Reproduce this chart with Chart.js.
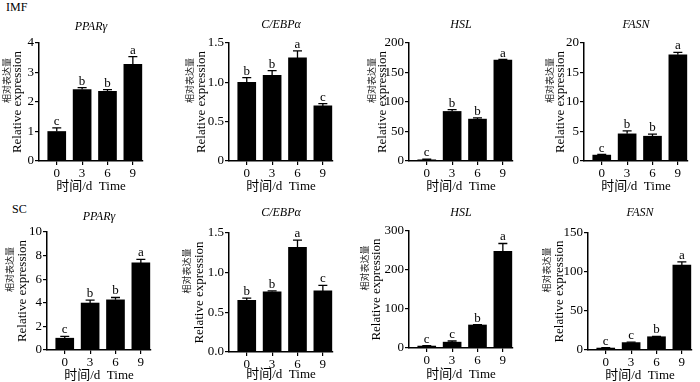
<!DOCTYPE html>
<html><head><meta charset="utf-8">
<script src="https://cdn.jsdelivr.net/npm/chart.js@4.4.0/dist/chart.umd.min.js"></script>
<style>
html,body{margin:0;padding:0;background:#fff;width:700px;height:382px;overflow:hidden;}
#wrap{position:relative;width:700px;height:382px;}
canvas{position:absolute;left:0;top:0;}
.grp{position:absolute;font:12px 'Liberation Serif',serif;color:#000;line-height:14px;}
</style></head><body>
<div id="wrap">
<div class="grp" style="left:6px;top:0px">IMF</div>
<div class="grp" style="left:12px;top:202px">SC</div>
</div>
<script>
// ---- data ----
const days = [0, 3, 6, 9];
const dayLabels = ['0', '3', '6', '9'];
const genes = ['PPARγ', 'C/EBPα', 'HSL', 'FASN'];
const groups = ['IMF', 'SC'];

// IMF
const imfPPARG = [1.0, 2.42, 2.36, 3.28];
const imfPPARGErr = [0.12, 0.07, 0.06, 0.26];
const imfPPARGSig = ['c', 'b', 'b', 'a'];
const imfCEBPA = [1.0, 1.09, 1.31, 0.70];
const imfCEBPAErr = [0.06, 0.06, 0.09, 0.03];
const imfCEBPASig = ['b', 'b', 'a', 'c'];
const imfHSL = [2, 84, 71, 171];
const imfHSLErr = [1, 3, 2, 1];
const imfHSLSig = ['c', 'b', 'b', 'a'];
const imfFASN = [1.0, 4.6, 4.2, 18.0];
const imfFASNErr = [0.1, 0.5, 0.35, 0.4];
const imfFASNSig = ['c', 'b', 'b', 'a'];

// SC
const scPPARG = [1.0, 3.98, 4.25, 7.38];
const scPPARGErr = [0.15, 0.25, 0.2, 0.3];
const scPPARGSig = ['c', 'b', 'b', 'a'];
const scCEBPA = [0.65, 0.76, 1.32, 0.77];
const scCEBPAErr = [0.03, 0.01, 0.09, 0.07];
const scCEBPASig = ['b', 'b', 'a', 'c'];
const scHSL = [5, 15, 59, 248];
const scHSLErr = [1, 3, 1, 20];
const scHSLSig = ['c', 'c', 'b', 'a'];
const scFASN = [2.5, 9.5, 17, 109];
const scFASNErr = [0.5, 0.5, 0.5, 4];
const scFASNSig = ['c', 'c', 'b', 'a'];

// y tick values / labels
const ticksPPARG_IMF = [0, 1, 2, 3, 4];
const labelsPPARG_IMF = ['0', '1', '2', '3', '4'];
const ticksCEBPA_IMF = [0, 0.5, 1.0, 1.5];
const labelsCEBPA_IMF = ['0', '0.5', '1.0', '1.5'];
const ticksHSL_IMF = [0, 50, 100, 150, 200];
const labelsHSL_IMF = ['0', '50', '100', '150', '200'];
const ticksFASN_IMF = [0, 5, 10, 15, 20];
const labelsFASN_IMF = ['0', '5', '10', '15', '20'];
const ticksPPARG_SC = [0, 2, 4, 6, 8, 10];
const labelsPPARG_SC = ['0', '2', '4', '6', '8', '10'];
const ticksCEBPA_SC = [0, 0.5, 1.0, 1.5];
const labelsCEBPA_SC = ['0.0', '0.5', '1.0', '1.5'];
const ticksHSL_SC = [0, 100, 200, 300];
const labelsHSL_SC = ['0', '100', '200', '300'];
const ticksFASN_SC = [0, 50, 100, 150];
const labelsFASN_SC = ['0', '50', '100', '150'];

const yTitleEn = 'Relative expression';
const yTitleCn = '相对表达量';
const xTitle = '时间/d  Time';

// ---- panel layout (pixel geometry, not data) ----
const W = 700, H = 382;
const panels = [
  {gene: 0, v: imfPPARG, e: imfPPARGErr, s: imfPPARGSig, tv: ticksPPARG_IMF, tl: labelsPPARG_IMF, L: 39, R: 143, T: 43, B: 161, ty: 27, ex: 17.5, cx: 7, xty: 187},
  {gene: 1, v: imfCEBPA, e: imfCEBPAErr, s: imfCEBPASig, tv: ticksCEBPA_IMF, tl: labelsCEBPA_IMF, L: 229, R: 333, T: 43, B: 161, ty: 25, ex: 202, cx: 190, xty: 187},
  {gene: 2, v: imfHSL, e: imfHSLErr, s: imfHSLSig, tv: ticksHSL_IMF, tl: labelsHSL_IMF, L: 409, R: 513, T: 43, B: 161, ty: 25, ex: 383, cx: 372, xty: 187},
  {gene: 3, v: imfFASN, e: imfFASNErr, s: imfFASNSig, tv: ticksFASN_IMF, tl: labelsFASN_IMF, L: 584, R: 688, T: 43, B: 161, ty: 25, ex: 561, cx: 550, xty: 187},
  {gene: 0, v: scPPARG, e: scPPARGErr, s: scPPARGSig, tv: ticksPPARG_SC, tl: labelsPPARG_SC, L: 47, R: 151, T: 232, B: 350, ty: 217, ex: 23, cx: 10, xty: 376},
  {gene: 1, v: scCEBPA, e: scCEBPAErr, s: scCEBPASig, tv: ticksCEBPA_SC, tl: labelsCEBPA_SC, L: 229, R: 333, T: 233, B: 352, ty: 213, ex: 200, cx: 187, xty: 375},
  {gene: 2, v: scHSL, e: scHSLErr, s: scHSLSig, tv: ticksHSL_SC, tl: labelsHSL_SC, L: 409, R: 513, T: 231, B: 348, ty: 213, ex: 377, cx: 365, xty: 375},
  {gene: 3, v: scFASN, e: scFASNErr, s: scFASNSig, tv: ticksFASN_SC, tl: labelsFASN_SC, L: 588, R: 692, T: 233, B: 350, ty: 213, ex: 560, cx: 547, xty: 376}
];

const SERIF = "'Liberation Serif', serif";
const SERIF_CJK = "'Liberation Serif', 'Noto Sans CJK SC', serif";
Chart.defaults.font.family = SERIF;
Chart.defaults.color = '#000';

const errPlugin = {
  id: 'errLetters',
  afterDatasetsDraw(chart, args, opts) {
    const ctx = chart.ctx;
    const y = chart.scales.y;
    const meta = chart.getDatasetMeta(0);
    ctx.save();
    ctx.strokeStyle = '#000';
    ctx.lineWidth = 1.3;
    ctx.fillStyle = '#000';
    ctx.font = "13px " + SERIF;
    ctx.textAlign = 'center';
    ctx.textBaseline = 'alphabetic';
    meta.data.forEach((bar, i) => {
      const v = opts.values[i], e = opts.errors[i];
      const yTop = y.getPixelForValue(v);
      const yErr = y.getPixelForValue(v + e);
      ctx.beginPath();
      ctx.moveTo(bar.x, yTop);
      ctx.lineTo(bar.x, yErr);
      ctx.moveTo(bar.x - 4.5, yErr);
      ctx.lineTo(bar.x + 4.5, yErr);
      ctx.stroke();
      ctx.fillText(opts.letters[i], bar.x, yErr - 3);
    });
    // Chinese y-axis title line (starts at the plot's mid-height, runs upward)
    const ca = chart.chartArea;
    ctx.translate(opts.cnX, (ca.top + ca.bottom) / 2 + 1);
    ctx.rotate(-Math.PI / 2);
    ctx.font = "9px 'Noto Sans CJK SC', sans-serif";
    ctx.fillStyle = '#222';
    ctx.textAlign = 'left';
    ctx.textBaseline = 'middle';
    ctx.fillText(yTitleCn, 0, 0);
    ctx.restore();
  }
};

const wrap = document.getElementById('wrap');
panels.forEach((p) => {
  const cv = document.createElement('canvas');
  cv.width = W; cv.height = H;
  cv.style.width = W + 'px'; cv.style.height = H + 'px';
  wrap.appendChild(cv);
  new Chart(cv, {
    type: 'bar',
    data: {
      labels: days,
      datasets: [{
        data: p.v,
        backgroundColor: '#000',
        borderWidth: 0,
        barThickness: 18
      }]
    },
    plugins: [errPlugin],
    options: {
      responsive: false,
      animation: false,
      events: [],
      layout: {padding: {left: 0, top: 0, bottom: 0, right: W - p.R}},
      plugins: {
        legend: {display: false},
        tooltip: {enabled: false},
        title: {
          display: true,
          text: genes[p.gene],
          fullSize: false,
          color: '#000',
          font: {size: 12, style: 'italic', weight: 'normal', family: SERIF, lineHeight: 1.2},
          padding: {top: p.ty - 7.2, bottom: p.T - p.ty - 7.2}
        },
        errLetters: {values: p.v, errors: p.e, letters: p.s, cnX: p.cx}
      },
      scales: {
        x: {
          type: 'linear',
          offset: false,
          min: -2.1,
          max: 10.2,
          afterBuildTicks: (s) => { s.ticks = days.map(d => ({value: d})); },
          afterFit: (s) => { s.height = H - p.B; },
          ticks: {
            autoSkip: false,
            padding: 1,
            font: {size: 13, family: SERIF, weight: 'normal'},
            color: '#000',
            maxRotation: 0,
            callback: (val) => dayLabels[days.indexOf(val)]
          },
          grid: {display: true, offset: false, drawOnChartArea: false, drawTicks: true, tickLength: 4, color: '#000', lineWidth: 1.2},
          border: {display: true, color: '#000', width: 1.5},
          title: {
            display: true,
            text: xTitle,
            color: '#000',
            font: {size: 13, family: SERIF_CJK, weight: 'normal', lineHeight: 1.2},
            padding: {top: 0, bottom: H - p.xty - 7.8}
          }
        },
        y: {
          min: 0,
          max: p.tv[p.tv.length - 1],
          afterBuildTicks: (s) => { s.ticks = p.tv.map(v => ({value: v})); },
          afterFit: (s) => { s.width = p.L; },
          ticks: {
            padding: 1,
            font: {size: 13, family: SERIF, weight: 'normal'},
            color: '#000',
            callback: (val, i) => p.tl[i]
          },
          grid: {display: true, drawOnChartArea: false, drawTicks: true, tickLength: 4, color: '#000', lineWidth: 1.2},
          border: {display: true, color: '#000', width: 1.5},
          title: {
            display: true,
            text: yTitleEn,
            color: '#000',
            font: {size: 13, family: SERIF, weight: 'normal', lineHeight: 1.2},
            padding: {top: p.ex - 7.8, bottom: 0}
          }
        }
      }
    }
  });
});
</script>
</body></html>
